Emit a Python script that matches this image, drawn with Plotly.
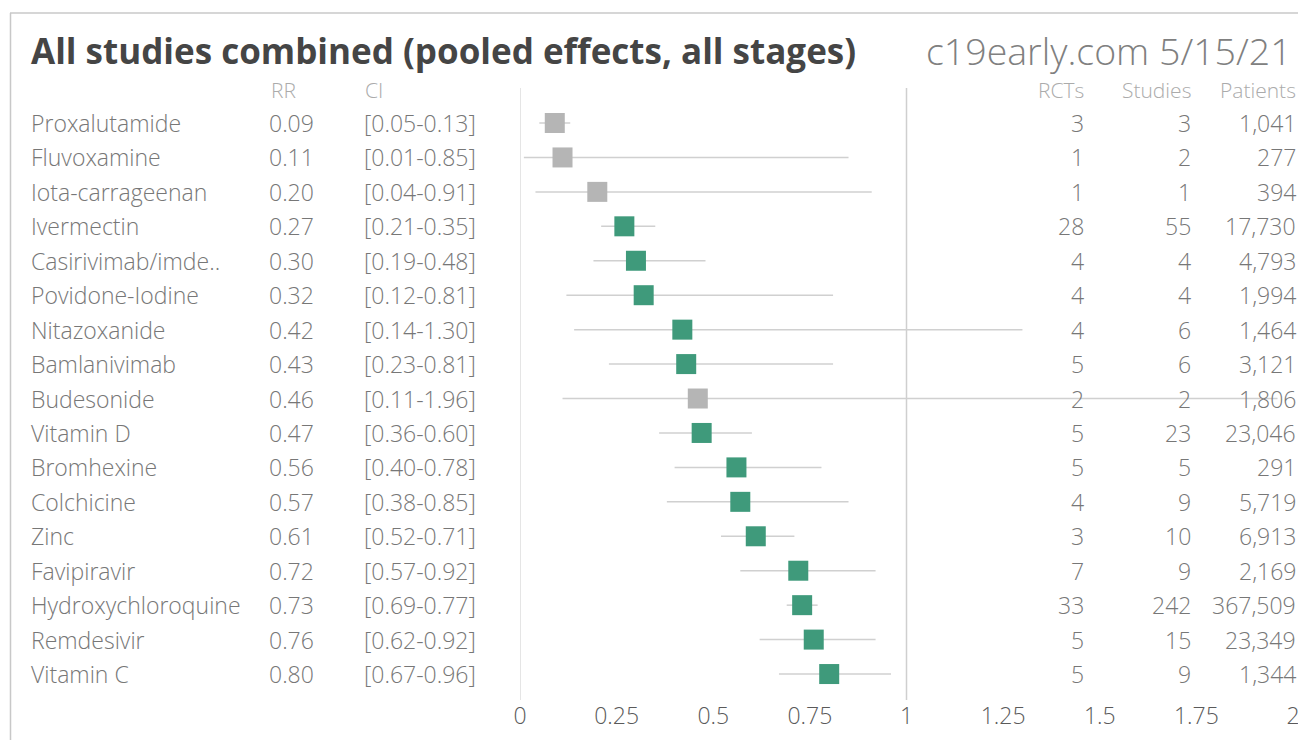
import plotly.graph_objects as go

treatments = ["Proxalutamide", "Fluvoxamine", "Iota-carrageenan", "Ivermectin", "Casirivimab/imde..",
              "Povidone-Iodine", "Nitazoxanide", "Bamlanivimab", "Budesonide", "Vitamin D",
              "Bromhexine", "Colchicine", "Zinc", "Favipiravir", "Hydroxychloroquine",
              "Remdesivir", "Vitamin C"]
rr = [0.09, 0.11, 0.20, 0.27, 0.30, 0.32, 0.42, 0.43, 0.46, 0.47, 0.56, 0.57, 0.61, 0.72, 0.73, 0.76, 0.80]
ci_low = [0.05, 0.01, 0.04, 0.21, 0.19, 0.12, 0.14, 0.23, 0.11, 0.36, 0.40, 0.38, 0.52, 0.57, 0.69, 0.62, 0.67]
ci_high = [0.13, 0.85, 0.91, 0.35, 0.48, 0.81, 1.30, 0.81, 1.96, 0.60, 0.78, 0.85, 0.71, 0.92, 0.77, 0.92, 0.96]
rcts = [3, 1, 1, 28, 4, 4, 4, 5, 2, 5, 5, 4, 3, 7, 33, 5, 5]
studies = [3, 2, 1, 55, 4, 4, 6, 6, 2, 23, 5, 9, 10, 9, 242, 15, 9]
patients = [1041, 277, 394, 17730, 4793, 1994, 1464, 3121, 1806, 23046, 291, 5719, 6913, 2169, 367509, 23349, 1344]
highlighted = [False, False, False, True, True, True, True, True, False, True, True, True, True, True, True, True, True]
tick_vals = [0, 0.25, 0.5, 0.75, 1, 1.25, 1.5, 1.75, 2]
tick_text = ["0", "0.25", "0.5", "0.75", "1", "1.25", "1.5", "1.75", "2"]

W, H = 1298, 740
GREEN = "#3f9a7b"
GRAY = "#b5b5b5"
TXT = "#777777"
HDR = "#ababab"
BODY_FONT = "Open Sans"

rows = list(range(len(treatments)))
colors = [GREEN if h else GRAY for h in highlighted]

fig = go.Figure()
fig.add_trace(go.Scatter(
    x=rr, y=rows, mode="markers",
    marker=dict(symbol="square", size=20, color=colors, line=dict(width=0)),
    error_x=dict(type="data", symmetric=False,
                 array=[h - r for h, r in zip(ci_high, rr)],
                 arrayminus=[r - l for r, l in zip(rr, ci_low)],
                 color="#d0d0d0", thickness=1.5, width=0),
    hoverinfo="skip", showlegend=False, cliponaxis=False,
))

def px(xp):
    return xp / W

ann = []
body = dict(family=BODY_FONT, size=23, color=TXT, weight=300)
for i in rows:
    ann.append(dict(x=px(29), y=i, xref="paper", yref="y", text=treatments[i], xanchor="left", yanchor="middle", showarrow=False, font=body))
    ann.append(dict(x=px(267), y=i, xref="paper", yref="y", text=f"{rr[i]:.2f}", xanchor="left", yanchor="middle", showarrow=False, font=body))
    ann.append(dict(x=px(362), y=i, xref="paper", yref="y", text=f"[{ci_low[i]:.2f}-{ci_high[i]:.2f}]", xanchor="left", yanchor="middle", showarrow=False, font=body))
    ann.append(dict(x=px(1086), y=i, xref="paper", yref="y", text=str(rcts[i]), xanchor="right", yanchor="middle", showarrow=False, font=body))
    ann.append(dict(x=px(1193), y=i, xref="paper", yref="y", text=str(studies[i]), xanchor="right", yanchor="middle", showarrow=False, font=body))
    ann.append(dict(x=px(1298), y=i, xref="paper", yref="y", text=f"{patients[i]:,}", xanchor="right", yanchor="middle", showarrow=False, font=body))

hdr = dict(family=BODY_FONT, size=21, color=HDR, weight=300)
hy = -0.97
ann.append(dict(x=px(269), y=hy, xref="paper", yref="y", text="RR", xanchor="left", yanchor="middle", showarrow=False, font=hdr))
ann.append(dict(x=px(363), y=hy, xref="paper", yref="y", text="CI", xanchor="left", yanchor="middle", showarrow=False, font=hdr))
ann.append(dict(x=px(1086), y=hy, xref="paper", yref="y", text="RCTs", xanchor="right", yanchor="middle", showarrow=False, font=hdr))
ann.append(dict(x=px(1193), y=hy, xref="paper", yref="y", text="Studies", xanchor="right", yanchor="middle", showarrow=False, font=hdr))
ann.append(dict(x=px(1298), y=hy, xref="paper", yref="y", text="Patients", xanchor="right", yanchor="middle", showarrow=False, font=hdr))

# title and source
top, bottom = 88, 700
def py(p):
    return (bottom - p) / (bottom - top)

ann.append(dict(x=px(29), y=py(51), xref="paper", yref="paper", text="<b>All studies combined (pooled effects, all stages)</b>",
                xanchor="left", yanchor="middle", showarrow=False,
                font=dict(family="Open Sans", size=35, color="#454545")))
ann.append(dict(x=px(1294), y=py(50), xref="paper", yref="paper", text="c19early.com 5/15/21",
                xanchor="right", yanchor="middle", showarrow=False,
                font=dict(family="Open Sans", size=37.5, color="#808080", weight=300)))

shapes = [
    dict(type="line", xref="x", yref="paper", x0=0, x1=0, y0=0, y1=1, line=dict(color="#dcdcdc", width=1.5), layer="below"),
    dict(type="line", xref="x", yref="paper", x0=1, x1=1, y0=0, y1=1, line=dict(color="#cfcfcf", width=1.5), layer="below"),
    dict(type="line", xref="paper", yref="paper", x0=px(10), x1=1.0, y0=py(13), y1=py(13), line=dict(color="#c8c8c8", width=1.5)),
    dict(type="line", xref="paper", yref="paper", x0=px(10.5), x1=px(10.5), y0=py(13), y1=py(745), line=dict(color="#c8c8c8", width=1.5)),
]

spacing = 34.44
r_top = -(123 - top) / spacing
r_bot = r_top + (bottom - top) / spacing

fig.update_layout(
    width=W, height=H,
    margin=dict(l=0, r=0, t=top, b=H - bottom, pad=0, autoexpand=False),
    paper_bgcolor="white", plot_bgcolor="white",
    xaxis=dict(domain=[520 / W, 1293 / W], range=[0, 2.0], tickvals=tick_vals, ticktext=tick_text,
               showgrid=False, zeroline=False, showline=False, ticks="", automargin=False,
               ticklabeloverflow="allow",
               tickfont=dict(family=BODY_FONT, size=23, color="#5a5a5a", weight=300), fixedrange=True),
    yaxis=dict(range=[r_bot, r_top], visible=False, fixedrange=True, automargin=False),
    annotations=ann, shapes=shapes,
)

fig.write_html("out.html", config={"displayModeBar": False},
               post_script="document.body.style.margin='0';document.body.style.overflow='hidden';document.documentElement.style.overflow='hidden';")
